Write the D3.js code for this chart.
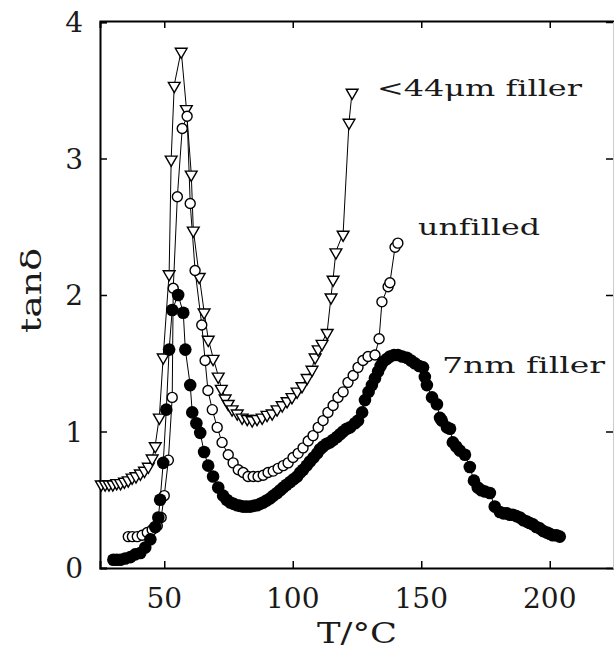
<!DOCTYPE html>
<html>
<head>
<meta charset="utf-8">
<script src="https://cdn.jsdelivr.net/npm/d3@7"></script>
<style>
  body { margin: 0; background: #fff; }
  svg { display: block; }
  text { font-variant-ligatures: none; }
</style>
</head>
<body>
<svg id="chart" width="614" height="652"></svg>
<script>
// tan delta vs temperature, three samples
var xTicks = [50, 100, 150, 200];
var yTicks = [0, 1, 2, 3, 4];

// <44um filler (open down triangles)
var coarseT = [25.5, 27, 28.5, 30, 31.5, 33, 34.5, 36, 37.5, 39, 40.7, 42.3, 43.8, 45.3, 46.5, 48.1, 49.6,
  51.9, 52.7, 53.9, 56.6, 58.6, 60.5, 61.3, 63.6, 65.5, 67.1, 69.0, 71.0, 72.2, 73.7, 74.9, 76.4, 78.4,
  80.3, 82.3, 84.2, 86.1, 88.1, 90.0, 92.0, 93.9, 95.9, 97.8, 99.7, 101.7, 103.6, 105.6, 107.5, 108.7,
  109.9, 111.4, 113.4, 114.9, 115.7, 116.8, 119.6, 121.9, 123.1];
var coarseTan = [0.62, 0.62, 0.62, 0.62, 0.63, 0.63, 0.64, 0.65, 0.67, 0.68, 0.70, 0.72, 0.75, 0.81, 0.90, 1.11, 1.55,
  2.16, 3.00, 3.54, 3.79, 3.37, 2.89, 2.48, 2.14, 1.88, 1.68, 1.54, 1.41, 1.32, 1.25, 1.21, 1.17, 1.14,
  1.11, 1.10, 1.09, 1.10, 1.11, 1.13, 1.14, 1.17, 1.20, 1.23, 1.26, 1.30, 1.34, 1.40, 1.46, 1.55,
  1.61, 1.65, 1.73, 1.99, 2.12, 2.32, 2.45, 3.27, 3.49];

// unfilled (open circles)
var unfilledT = [36.0, 37.6, 39.5, 41.4, 43.4, 45.3, 47.3, 48.8, 50.0, 51.6, 53.1, 53.5, 55.1, 57.0, 58.9,
  60.1, 62.0, 64.6, 65.9, 67.0, 68.7, 70.6, 72.5, 74.9, 76.8, 78.8, 80.7, 82.6, 84.6, 86.5, 88.5, 90.4,
  92.4, 94.3, 96.3, 98.2, 100.1, 102.1, 104.0, 106.0, 107.9, 109.9, 111.8, 113.7, 115.7, 117.6, 119.6,
  121.5, 123.5, 125.4, 127.3, 129.3, 132.0, 133.6, 134.7, 137.1, 137.8, 139.8, 140.9];
var unfilledTan = [0.23, 0.23, 0.23, 0.24, 0.26, 0.28, 0.31, 0.37, 0.53, 0.79, 1.25, 2.05, 2.72, 3.22, 3.31,
  2.67, 2.18, 1.78, 1.52, 1.30, 1.16, 1.03, 0.92, 0.83, 0.77, 0.72, 0.70, 0.67, 0.67, 0.67, 0.68, 0.70,
  0.71, 0.73, 0.75, 0.77, 0.81, 0.84, 0.88, 0.93, 0.97, 1.03, 1.08, 1.14, 1.19, 1.25, 1.29,
  1.36, 1.41, 1.47, 1.52, 1.55, 1.56, 1.68, 1.95, 2.06, 2.09, 2.35, 2.38];

// 7nm filler (filled circles)
var fineT = [30.2, 31.5, 32.9, 34.8, 36.8, 38.7, 40.7, 42.6, 44.6, 46.5, 47.7, 48.4, 49.6, 50.8, 51.9,
  53.1, 55.4, 57.4, 58.2, 60.1, 60.9, 62.5, 64.0, 65.5, 67.1, 69.0, 71.0, 72.9, 74.3, 75.7, 77.0, 78.4,
  79.5, 80.7, 82.0, 83.4, 84.8, 86.1, 87.3, 88.5, 89.8, 91.2, 92.5, 93.9, 95.1, 96.3, 97.6, 99.0, 100.3,
  101.7, 102.9, 104.0, 105.4, 106.7, 108.1, 109.5, 110.6, 111.8, 113.2, 114.5, 115.8, 117.2, 118.4,
  119.6, 121.0, 122.3, 124.2, 125.4, 127.0, 128.1, 129.5, 130.8, 132.0, 133.2, 134.2, 135.1, 136.5,
  137.8, 139.4, 140.9, 142.6, 144.4, 146.0, 147.5, 149.2, 150.7, 151.4, 152.2, 154.2, 156.1, 157.3,
  158.0, 160.0, 161.2, 162.3, 163.6, 165.0, 167.0, 168.9, 170.5, 172.0, 173.4, 174.8, 176.7, 178.6,
  180.6, 182.0, 183.3, 184.5, 185.6, 187.0, 188.4, 189.8, 191.1, 192.2, 193.4, 194.8, 196.1, 197.5,
  198.9, 200.0, 201.2, 202.6, 203.9];
var fineTan = [0.06, 0.06, 0.06, 0.07, 0.08, 0.10, 0.11, 0.15, 0.21, 0.30, 0.37, 0.50, 0.77, 1.16, 1.60,
  1.89, 2.00, 1.87, 1.60, 1.34, 1.14, 1.06, 0.99, 0.85, 0.75, 0.67, 0.59, 0.53, 0.50, 0.48, 0.47, 0.46,
  0.455, 0.45, 0.45, 0.45, 0.455, 0.46, 0.47, 0.48, 0.495, 0.51, 0.53, 0.55, 0.57, 0.59, 0.61, 0.63, 0.65,
  0.67, 0.70, 0.72, 0.75, 0.78, 0.81, 0.84, 0.87, 0.89, 0.91, 0.92, 0.94, 0.96, 0.98,
  1.00, 1.02, 1.03, 1.06, 1.08, 1.14, 1.23, 1.29, 1.34, 1.39, 1.44, 1.48, 1.51, 1.53,
  1.55, 1.56, 1.56, 1.55, 1.54, 1.52, 1.50, 1.48, 1.47, 1.40, 1.34, 1.25, 1.20, 1.10,
  1.08, 1.03, 1.02, 0.92, 0.89, 0.86, 0.83, 0.74, 0.64, 0.59, 0.57, 0.56, 0.55, 0.45,
  0.41, 0.40, 0.40, 0.39, 0.39, 0.38, 0.37, 0.35, 0.34, 0.33, 0.32, 0.30, 0.29, 0.27,
  0.26, 0.25, 0.24, 0.24, 0.23];

var labels = ["<44\u03bcm filler", "unfilled", "7nm filler"];

(function () {
  "use strict";
  var svg = d3.select("#chart");
  var pLeft = 100, pRight = 614, pTop = 22, pBottom = 568;

  var x = d3.scaleLinear().domain([25, 225]).range([pLeft, pRight]);
  var y = d3.scaleLinear().domain([0, 4]).range([pBottom, pTop]);

  var serif = "'DejaVu Serif', serif";
  var ink = "#1a1a1a";

  function pts(ts, vs) {
    var out = [];
    for (var i = 0; i < ts.length; i++) out.push([ts[i], vs[i]]);
    return out;
  }
  var coarse = pts(coarseT, coarseTan);
  var unfilled = pts(unfilledT, unfilledTan);
  var fine = pts(fineT, fineTan);

  var line = d3.line().x(function(d){ return x(d[0]); }).y(function(d){ return y(d[1]); });

  // frame + inward ticks
  var gx = svg.append("g").attr("transform", "translate(0," + pBottom + ")")
    .call(d3.axisBottom(x).tickValues(xTicks).tickSize(-7).tickFormat(""));
  var gxt = svg.append("g").attr("transform", "translate(0," + (pTop - 1) + ")")
    .call(d3.axisTop(x).tickValues(xTicks).tickSize(-7).tickFormat(""));
  var gy = svg.append("g").attr("transform", "translate(" + pLeft + ",0)")
    .call(d3.axisLeft(y).tickValues(yTicks).tickSize(-7).tickFormat(""));
  var gyr = svg.append("g").attr("transform", "translate(" + (pRight - 1) + ",0)")
    .call(d3.axisRight(y).tickValues(yTicks).tickSize(-7).tickFormat(""));
  [gx, gxt, gy, gyr].forEach(function(g){
    g.select(".domain").attr("stroke", "#000").attr("stroke-width", 2);
    g.selectAll(".tick line").attr("stroke", "#000").attr("stroke-width", 1.5);
  });
  gyr.select(".domain").attr("stroke", "#ccc").attr("stroke-width", 1);

  // tick labels
  svg.append("g").selectAll("text").data(xTicks).enter().append("text")
    .attr("x", function(d){ return x(d); })
    .attr("y", 608)
    .attr("text-anchor", "middle")
    .attr("font-family", serif).attr("font-size", 28).attr("fill", ink)
    .text(function(d){ return d; });
  svg.append("g").selectAll("text").data(yTicks).enter().append("text")
    .attr("x", 83)
    .attr("y", function(d){ return y(d) + 10; })
    .attr("text-anchor", "end")
    .attr("font-family", serif).attr("font-size", 28).attr("fill", ink)
    .text(function(d){ return d; });

  // axis titles
  svg.append("text")
    .attr("x", 317).attr("y", 643)
    .attr("font-family", serif).attr("font-size", 28).attr("fill", ink)
    .attr("textLength", 80).attr("lengthAdjust", "spacingAndGlyphs")
    .text("T/\u00b0C");
  svg.append("text")
    .attr("transform", "translate(41,333) rotate(-90)")
    .attr("font-family", serif).attr("font-size", 28).attr("fill", ink)
    .attr("textLength", 85).attr("lengthAdjust", "spacingAndGlyphs")
    .text("tan\u03b4");

  // series lines
  [coarse, unfilled, fine].forEach(function(s){
    svg.append("path").datum(s).attr("d", line)
      .attr("fill", "none").attr("stroke", "#000").attr("stroke-width", 1);
  });

  // markers
  var tri = d3.symbol().type(d3.symbolTriangle).size(60);
  svg.append("g").selectAll("path").data(coarse).enter().append("path")
    .attr("d", tri)
    .attr("transform", function(d){ return "translate(" + x(d[0]) + "," + (y(d[1]) + 1) + ") rotate(180)"; })
    .attr("fill", "#fff").attr("stroke", "#000").attr("stroke-width", 1.4);

  svg.append("g").selectAll("circle").data(unfilled).enter().append("circle")
    .attr("cx", function(d){ return x(d[0]); })
    .attr("cy", function(d){ return y(d[1]); })
    .attr("r", 5)
    .attr("fill", "#fff").attr("stroke", "#000").attr("stroke-width", 1.4);

  svg.append("g").selectAll("circle").data(fine).enter().append("circle")
    .attr("cx", function(d){ return x(d[0]); })
    .attr("cy", function(d){ return y(d[1]); })
    .attr("r", 6.3)
    .attr("fill", "#000");

  // series labels
  var labelPos = [[377, 96, 205], [418, 235, 122], [442, 373, 163]];
  svg.append("g").selectAll("text").data(labels).enter().append("text")
    .attr("x", function(d, i){ return labelPos[i][0]; })
    .attr("y", function(d, i){ return labelPos[i][1]; })
    .attr("textLength", function(d, i){ return labelPos[i][2]; })
    .attr("lengthAdjust", "spacingAndGlyphs")
    .attr("font-family", serif).attr("font-size", 22).attr("fill", ink)
    .text(function(d){ return d; });
}());
</script>
</body>
</html>
